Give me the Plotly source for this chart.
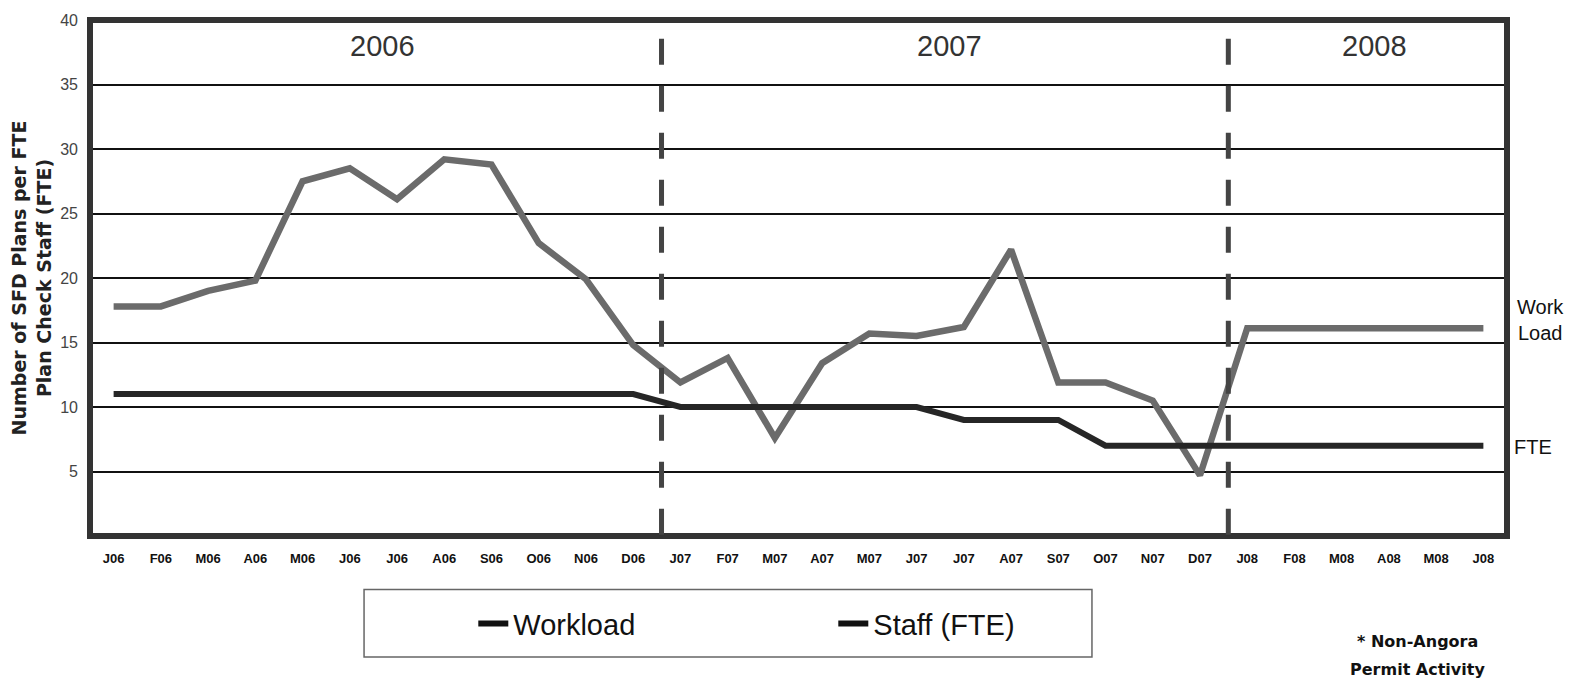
import plotly.graph_objects as go

months = ['J06', 'F06', 'M06', 'A06', 'M06', 'J06', 'J06', 'A06', 'S06', 'O06', 'N06', 'D06',
          'J07', 'F07', 'M07', 'A07', 'M07', 'J07', 'J07', 'A07', 'S07', 'O07', 'N07', 'D07',
          'J08', 'F08', 'M08', 'A08', 'M08', 'J08']
workload = [17.8, 17.8, 19.0, 19.8, 27.5, 28.5, 26.1, 29.2, 28.8, 22.7, 19.9, 14.8,
            11.9, 13.8, 7.6, 13.4, 15.7, 15.5, 16.2, 22.2, 11.9, 11.9, 10.5, 4.7,
            16.1, 16.1, 16.1, 16.1, 16.1, 16.1]
staff = [11, 11, 11, 11, 11, 11, 11, 11, 11, 11, 11, 11,
         10, 10, 10, 10, 10, 10, 9, 9, 9, 7, 7, 7,
         7, 7, 7, 7, 7, 7]
years = ['2006', '2007', '2008']
y_ticks = [5, 10, 15, 20, 25, 30, 35, 40]

x = list(range(len(months)))
sans = "Liberation Sans, Arial, sans-serif"

fig = go.Figure()
fig.add_trace(go.Scatter(x=x, y=workload, mode='lines', showlegend=False,
                         line=dict(color='#6b6b6b', width=6.5)))
fig.add_trace(go.Scatter(x=x, y=staff, mode='lines', showlegend=False,
                         line=dict(color='#262626', width=6)))
# legend samples are drawn black in the original
fig.add_trace(go.Scatter(x=[None], y=[None], mode='lines', name='Workload',
                         line=dict(color='#111', width=6)))
fig.add_trace(go.Scatter(x=[None], y=[None], mode='lines', name='Staff (FTE)',
                         line=dict(color='#111', width=6)))

shapes = [
    dict(type='rect', xref='paper', yref='paper', x0=0, x1=1, y0=0, y1=1,
         line=dict(color='#333', width=6), layer='above'),
    dict(type='rect', xref='paper', yref='paper', x0=0.1934, x1=0.7071, y0=-0.1038, y1=-0.2346,
         line=dict(color='#666', width=1.5)),
]
for xd in [11.6, 23.6]:
    shapes.append(dict(type='line', xref='x', yref='paper', x0=xd, x1=xd, y0=0.9635, y1=0,
                       line=dict(color='#444', width=5, dash='26px,21px')))

annotations = []
for yr, xp in zip(years, [5.7, 17.7, 26.7]):
    annotations.append(dict(x=xp, y=38.0, xref='x', yref='y', text=yr, showarrow=False,
                            font=dict(family=sans, size=29, color='#333')))
annotations += [
    dict(x=1.0233, y=0.419, xref='paper', yref='paper', text='Work<br>Load', showarrow=False,
         align='center', xanchor='center', yanchor='middle',
         font=dict(family=sans, size=20, color='#111')),
    dict(x=1.0035, y=0.173, xref='paper', yref='paper', text='FTE', showarrow=False,
         xanchor='left', yanchor='middle', font=dict(family=sans, size=20, color='#111')),
    dict(x=0.937, y=-0.204, xref='paper', yref='paper', text='<b>* Non-Angora</b>',
         showarrow=False, xanchor='center', yanchor='middle',
         font=dict(family='DejaVu Sans', size=16, color='#111')),
    dict(x=0.937, y=-0.258, xref='paper', yref='paper', text='<b>Permit Activity</b>',
         showarrow=False, xanchor='center', yanchor='middle',
         font=dict(family='DejaVu Sans', size=16, color='#111')),
]

fig.update_layout(
    width=1573, height=678,
    margin=dict(l=90, r=66, t=16, b=142),
    paper_bgcolor='white', plot_bgcolor='white',
    font=dict(family=sans, color='#333'),
    shapes=shapes,
    annotations=annotations,
    legend=dict(orientation='h', x=0.2705, y=-0.17, xanchor='left', yanchor='middle',
                bgcolor='rgba(0,0,0,0)', entrywidth=315,
                font=dict(family=sans, size=29, color='#111')),
    xaxis=dict(range=[-0.5, 29.5], tickvals=x, ticktext=months, showgrid=False,
               zeroline=False, showline=False, ticks='', ticklabelstandoff=13,
               tickfont=dict(family=sans, size=13, color='#111', weight='bold')),
    yaxis=dict(range=[0, 40], tickvals=y_ticks, showgrid=True, gridcolor='#111', gridwidth=2,
               zeroline=False, showline=False, ticks='', ticklabelstandoff=11,
               tickfont=dict(family=sans, size=16, color='#444'),
               title=dict(text='<b>Number of SFD Plans per FTE<br>Plan Check Staff (FTE)</b>',
                          standoff=3,
                          font=dict(family='DejaVu Sans', size=19, color='#222'))),
)

fig.write_html("out.html", config={'displayModeBar': False},
               post_script="document.body.style.margin = '0';")
